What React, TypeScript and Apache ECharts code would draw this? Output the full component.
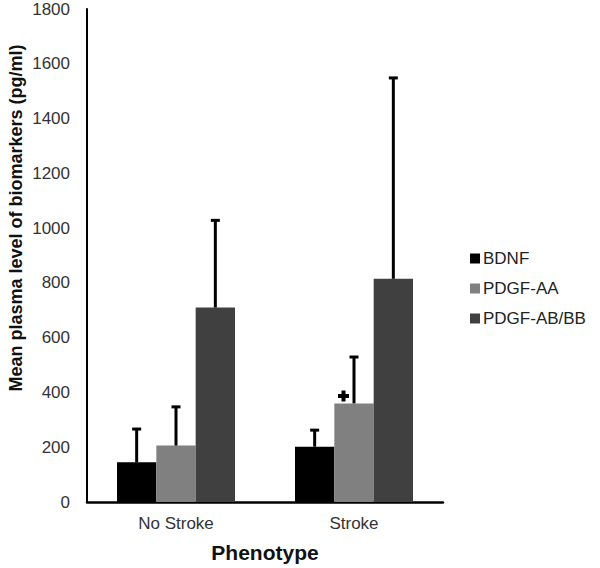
import React, { useEffect, useRef } from "react";
import * as echarts from "echarts";

const categories = ["No Stroke", "Stroke"];
const seriesNames = ["BDNF", "PDGF-AA", "PDGF-AB/BB"];
const seriesColors = ["#000000", "#808080", "#404040"];
const means = [
  [145, 202],
  [206, 360],
  [710, 815],
];
const errorTops = [
  [270, 266],
  [351, 533],
  [1032, 1552],
];
// significance marker: [seriesIndex, categoryIndex]
const markers = [[1, 1]];
const yTicks = { min: 0, max: 1800, interval: 200 };

const CATEGORY_GAP = 0.337;

export default function App() {
  const ref = useRef<HTMLDivElement>(null);
  useEffect(() => {
    if (!ref.current) return;
    const chart = echarts.init(ref.current, null, { renderer: "svg" });
    const font = "'Liberation Sans', Arial, sans-serif";

    const barSeries = seriesNames.map((name, i) => ({
      name,
      type: "bar",
      data: means[i],
      barGap: "0%",
      barCategoryGap: CATEGORY_GAP * 100 + "%",
      itemStyle: { color: seriesColors[i] },
      z: 2,
    }));

    const errSeries = seriesNames.map((name, si) => ({
      type: "custom",
      name: name + "-err",
      data: categories.map((_, ci) => [ci, means[si][ci], errorTops[si][ci]]),
      z: 3,
      renderItem: (params: any, api: any) => {
        const ci = api.value(0);
        const lo = api.coord([ci, api.value(1)]);
        const hi = api.coord([ci, api.value(2)]);
        const band = api.size([1, 0])[0];
        const bw = (band * (1 - CATEGORY_GAP)) / 3;
        const x = lo[0] + (si - 1) * bw;
        const children: any[] = [
          {
            type: "line",
            shape: { x1: x, y1: lo[1], x2: x, y2: hi[1] },
            style: { stroke: "#000", lineWidth: 3 },
          },
          {
            type: "line",
            shape: { x1: x - 4.5, y1: hi[1] + 1, x2: x + 4.5, y2: hi[1] + 1 },
            style: { stroke: "#000", lineWidth: 3 },
          },
        ];
        const hasMarker = markers.some((m) => m[0] === si && m[1] === ci);
        if (hasMarker) {
          const cx = x - 10.5;
          const cy = lo[1] - 7.5;
          const a = 5.5;
          const t = 2;
          children.push({
            type: "polygon",
            shape: {
              points: [
                [cx - t, cy - a],
                [cx + t, cy - a],
                [cx + t, cy - t],
                [cx + a, cy - t],
                [cx + a, cy + t],
                [cx + t, cy + t],
                [cx + t, cy + a],
                [cx - t, cy + a],
                [cx - t, cy + t],
                [cx - a, cy + t],
                [cx - a, cy - t],
                [cx - t, cy - t],
              ],
            },
            style: { fill: "#000" },
          });
        }
        return { type: "group", children };
      },
    }));

    chart.setOption({
      animation: false,
      backgroundColor: "#ffffff",
      textStyle: { fontFamily: font },
      grid: { left: 87, right: 157, top: 9, bottom: 63, containLabel: false },
      legend: {
        data: seriesNames,
        orient: "vertical",
        left: 470,
        top: 250,
        padding: 0,
        itemWidth: 10,
        itemHeight: 10,
        itemGap: 13,
        icon: "rect",
        textStyle: { fontSize: 17, color: "#222", fontFamily: font, padding: [0, 0, 0, -2] },
      },
      xAxis: {
        type: "category",
        data: categories,
        name: "Phenotype",
        nameLocation: "middle",
        nameGap: 40,
        nameTextStyle: { fontSize: 21, fontWeight: "bold", color: "#111", fontFamily: font },
        axisLine: { lineStyle: { color: "#000", width: 2.5 } },
        axisTick: { show: false },
        axisLabel: { fontSize: 17, color: "#333", margin: 13, fontFamily: font },
      },
      yAxis: {
        type: "value",
        min: yTicks.min,
        max: yTicks.max,
        interval: yTicks.interval,
        axisLine: { show: true, lineStyle: { color: "#000", width: 2 } },
        axisTick: { show: false },
        splitLine: { show: false },
        axisLabel: {
          fontSize: 17,
          color: "#333",
          margin: 17,
          fontFamily: font,
          formatter: (v: number) => String(v),
        },
      },
      graphic: [
        {
          type: "text",
          x: 16,
          y: 218,
          rotation: Math.PI / 2,
          style: {
            text: "Mean plasma level of biomarkers (pg/ml)",
            fontSize: 18,
            fontWeight: "bold",
            fill: "#111",
            fontFamily: font,
            align: "center",
            verticalAlign: "middle",
          },
        },
      ],
      series: [...barSeries, ...errSeries],
    });
    return () => chart.dispose();
  }, []);
  return <div ref={ref} style={{ width: 600, height: 568, position: "absolute", left: 0, top: 0 }} />;
}
